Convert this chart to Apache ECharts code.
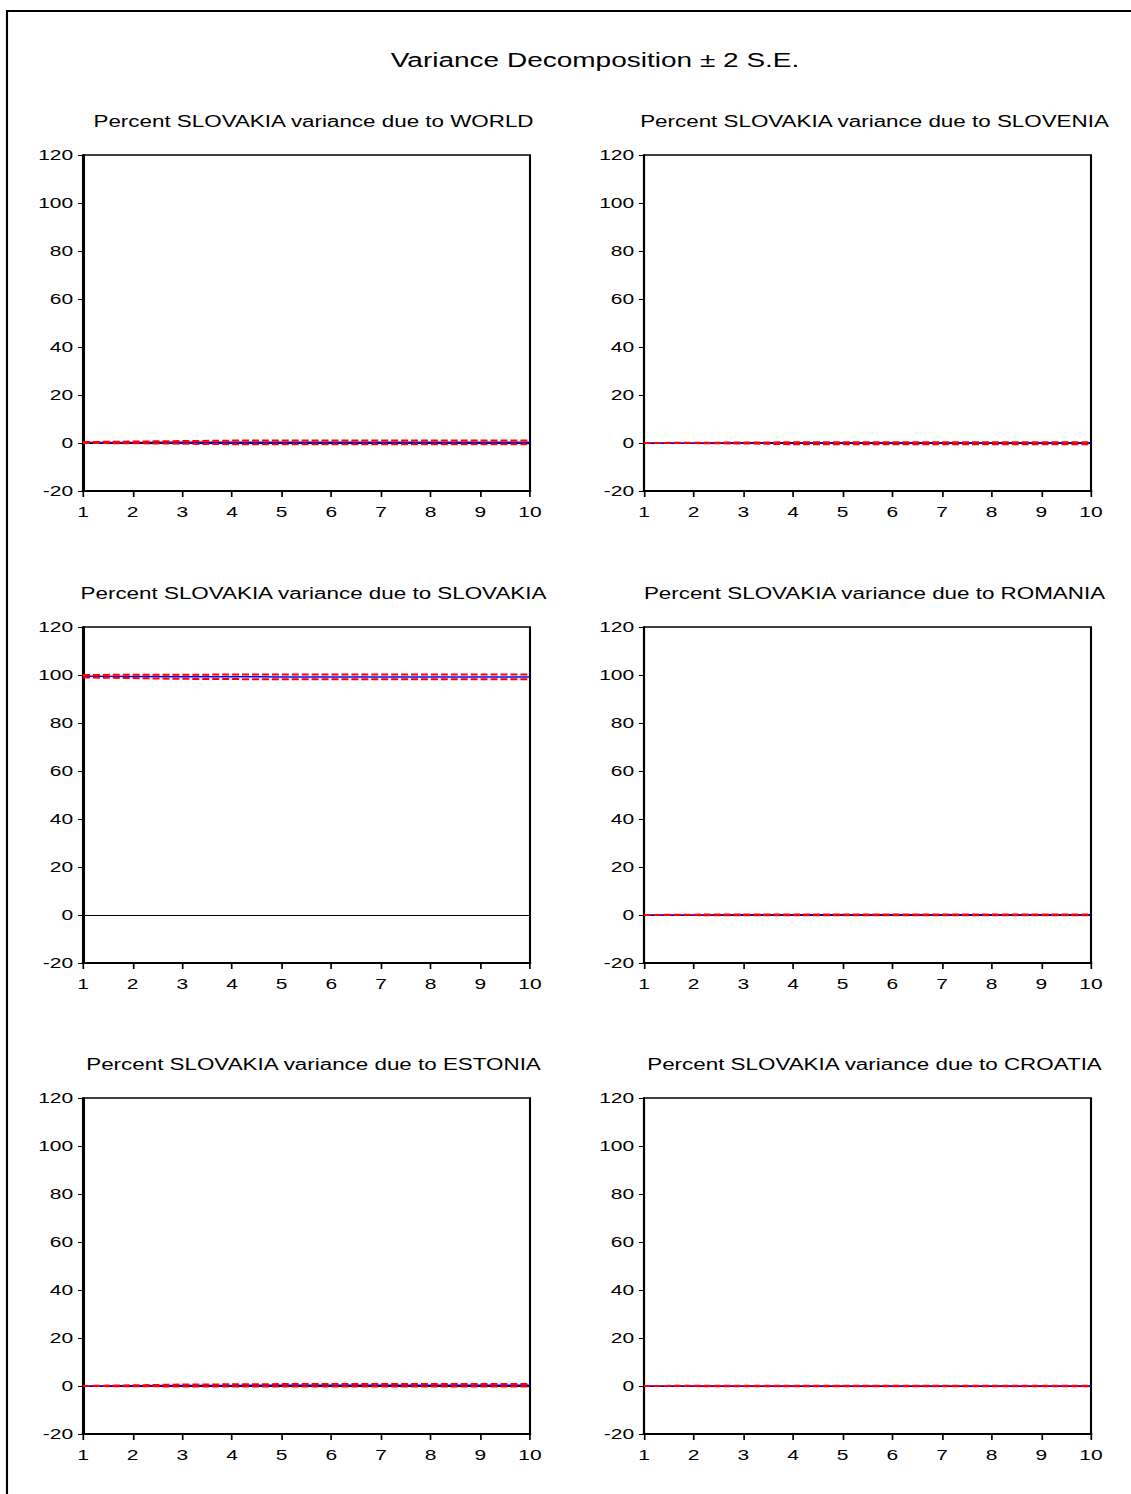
<!DOCTYPE html>
<html><head><meta charset="utf-8">
<script src="https://cdn.jsdelivr.net/npm/echarts@6/dist/echarts.min.js"></script>
<style>
html,body{margin:0;padding:0;background:#fff;overflow:hidden;width:1131px;height:1494px}
#c{height:1494px;transform-origin:0 0}
</style>
</head><body><div id="c"></div>
<script>
const periods = [1,2,3,4,5,6,7,8,9,10];
const yTicks = [-20,0,20,40,60,80,100,120];
const mainTitle = "Variance Decomposition \u00B1 2 S.E.";
const panelTitles = [
  "Percent SLOVAKIA variance due to WORLD",
  "Percent SLOVAKIA variance due to SLOVENIA",
  "Percent SLOVAKIA variance due to SLOVAKIA",
  "Percent SLOVAKIA variance due to ROMANIA",
  "Percent SLOVAKIA variance due to ESTONIA",
  "Percent SLOVAKIA variance due to CROATIA"
];
// point estimates and +/- 2 S.E. bands
const worldMean    = [0.2,0.25,0.3,0.3,0.3,0.3,0.3,0.3,0.3,0.3];
const worldUpper   = [0.4,0.6,0.8,1.0,1.0,1.0,1.0,1.0,1.0,1.0];
const worldLower   = [0.0,-0.1,-0.3,-0.5,-0.5,-0.5,-0.5,-0.5,-0.5,-0.5];
const sloveniaMean  = [0.0,0.05,0.08,0.1,0.1,0.1,0.1,0.1,0.1,0.1];
const sloveniaUpper = [0.0,0.1,0.2,0.3,0.3,0.3,0.3,0.3,0.3,0.3];
const sloveniaLower = [0.0,-0.05,-0.2,-0.5,-0.5,-0.5,-0.5,-0.5,-0.5,-0.5];
const slovakiaMean  = [99.5,99.4,99.3,99.3,99.2,99.2,99.2,99.2,99.2,99.2];
const slovakiaUpper = [100.0,100.1,100.1,100.2,100.2,100.2,100.2,100.2,100.2,100.2];
const slovakiaLower = [99.0,98.7,98.4,98.3,98.2,98.2,98.2,98.2,98.2,98.2];
const romaniaMean  = [0.0,0.05,0.08,0.1,0.1,0.1,0.1,0.1,0.1,0.1];
const romaniaUpper = [0.0,0.15,0.2,0.25,0.25,0.25,0.25,0.25,0.25,0.25];
const romaniaLower = [0.0,-0.05,-0.1,-0.1,-0.1,-0.1,-0.1,-0.1,-0.1,-0.1];
const estoniaMean  = [0.0,0.1,0.2,0.25,0.3,0.3,0.3,0.3,0.3,0.3];
const estoniaUpper = [0.0,0.3,0.6,0.7,0.8,0.8,0.8,0.8,0.8,0.8];
const estoniaLower = [0.0,-0.1,-0.2,-0.2,-0.2,-0.2,-0.2,-0.2,-0.2,-0.2];
const croatiaMean  = [0.0,0.02,0.03,0.04,0.05,0.05,0.05,0.05,0.05,0.05];
const croatiaUpper = [0.0,0.1,0.15,0.15,0.15,0.15,0.15,0.15,0.15,0.15];
const croatiaLower = [0.0,-0.05,-0.1,-0.1,-0.1,-0.1,-0.1,-0.1,-0.1,-0.1];

const panels = [
  [worldMean, worldUpper, worldLower],
  [sloveniaMean, sloveniaUpper, sloveniaLower],
  [slovakiaMean, slovakiaUpper, slovakiaLower],
  [romaniaMean, romaniaUpper, romaniaLower],
  [estoniaMean, estoniaUpper, estoniaLower],
  [croatiaMean, croatiaUpper, croatiaLower]
];

// The reference picture is stretched horizontally; reproduce that with a CSS scaleX.
const S = 1.4;
const el = document.getElementById('c');
el.style.width = (1131 / S) + 'px';
el.style.transform = 'scaleX(' + S + ')';
const X = v => v / S;   // convert picture x to pre-scale x

const lefts = [83, 644];
const tops = [155, 627, 1098];
const W = 447, H = 336;
const FONT = "Liberation Sans, Arial, sans-serif";

const grids = [], xAxes = [], yAxes = [], series = [], titles = [];
titles.push({text: mainTitle, left: X(588), top: 45, textAlign: 'center',
  textStyle: {fontFamily: FONT, fontSize: 20, fontWeight: 'normal', color: '#000'}});
panels.forEach((p, i) => {
  const col = i % 2, row = Math.floor(i / 2);
  const L = lefts[col], T = tops[row];
  grids.push({left: X(L), top: T, width: X(W), height: H, show: true,
    borderColor: '#000', borderWidth: 1.5, backgroundColor: 'transparent'});
  titles.push({text: panelTitles[i], left: X(L + W / 2), top: T - 47, textAlign: 'center',
    textStyle: {fontFamily: FONT, fontSize: 16, fontWeight: 'normal', color: '#000'}});
  xAxes.push({type: 'value', gridIndex: i, min: 1, max: 10, interval: 1,
    axisLine: {show: true, onZero: false, lineStyle: {color: '#000', width: 2}},
    axisTick: {show: true, length: 6, lineStyle: {color: '#000', width: 1.2}},
    axisLabel: {fontFamily: FONT, fontSize: 15, color: '#000', margin: 13},
    splitLine: {show: false}});
  yAxes.push({type: 'value', gridIndex: i, min: -20, max: 120, interval: 20,
    axisLine: {show: true, lineStyle: {color: '#000', width: 1.5}},
    axisTick: {show: true, length: 3.6, lineStyle: {color: '#000', width: 1}},
    axisLabel: {fontFamily: FONT, fontSize: 15, color: '#000', margin: 7, padding: [0, 0, 6, 0],
      formatter: v => yTicks.includes(v) ? String(v) : ''},
    splitLine: {show: false}});
  const toXY = arr => arr.map((v, k) => [periods[k], v]);
  series.push({type: 'line', xAxisIndex: i, yAxisIndex: i, data: toXY(p[0]), symbol: 'none',
    lineStyle: {color: '#0000FF', width: 1.5}, z: 3, silent: true,
    markLine: {silent: true, symbol: 'none', label: {show: false},
      lineStyle: {color: '#000', width: 1, type: 'solid'}, data: [{yAxis: 0}], z: 1}});
  series.push({type: 'line', xAxisIndex: i, yAxisIndex: i, data: toXY(p[1]), symbol: 'none',
    lineStyle: {color: '#FF0000', width: 2, type: [5, 2.1]}, z: 4, silent: true});
  series.push({type: 'line', xAxisIndex: i, yAxisIndex: i, data: toXY(p[2]), symbol: 'none',
    lineStyle: {color: '#FF0000', width: 2, type: [5, 2.1]}, z: 4, silent: true});
});

const chart = echarts.init(el, null, {renderer: 'svg'});
chart.setOption({
  animation: false,
  backgroundColor: '#fff',
  title: titles,
  grid: grids, xAxis: xAxes, yAxis: yAxes, series: series,
  graphic: [
    {type: 'line', shape: {x1: X(7), y1: 10, x2: X(7), y2: 1600}, style: {stroke: '#000', lineWidth: 1.5}, silent: true},
    {type: 'line', shape: {x1: X(6), y1: 11, x2: X(1200), y2: 11}, style: {stroke: '#000', lineWidth: 2}, silent: true}
  ]
});
</script></body></html>
